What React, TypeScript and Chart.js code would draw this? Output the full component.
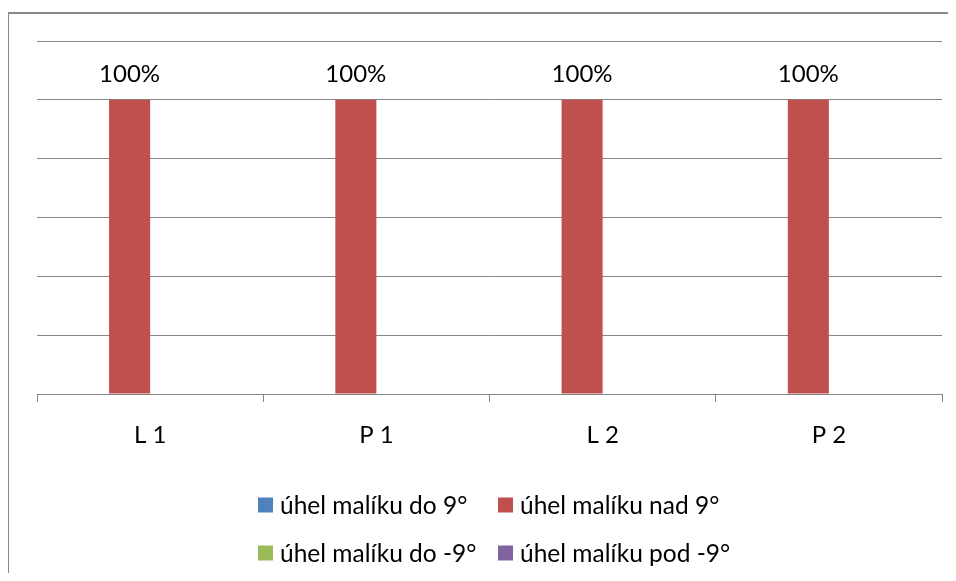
import React, { useEffect, useRef } from "react";
import { Chart, registerables } from "chart.js";

Chart.register(...registerables);

const categories = ["L 1", "P 1", "L 2", "P 2"];
const seriesNames = [
  "úhel malíku do 9°",
  "úhel malíku nad 9°",
  "úhel malíku do -9°",
  "úhel malíku pod -9°",
];
const doDevet = [0, 0, 0, 0];
const nadDevet = [100, 100, 100, 100];
const doMinusDevet = [0, 0, 0, 0];
const podMinusDevet = [0, 0, 0, 0];
const seriesColors = ["#4F81BD", "#C0504D", "#9BBB59", "#8064A2"];
const yMax = 120;
const yStep = 20;

const FONT = "Lato, 'Open Sans', sans-serif";
const GRID = "#868686";

const framePlugin = {
  id: "frame",
  beforeDraw(chart: any) {
    const ctx = chart.ctx;
    ctx.save();
    ctx.fillStyle = "#898989";
    ctx.fillRect(7, 12, 2, chart.height - 12);
    ctx.fillRect(7, 12, chart.width - 7, 2);
    ctx.restore();
  },
};

const labelPlugin = {
  id: "valueLabels",
  afterDatasetsDraw(chart: any) {
    const ctx = chart.ctx;
    ctx.save();
    ctx.font = `24px ${FONT}`;
    ctx.fillStyle = "#000";
    ctx.textAlign = "center";
    ctx.textBaseline = "alphabetic";
    chart.data.datasets.forEach((ds: any, di: number) => {
      const meta = chart.getDatasetMeta(di);
      meta.data.forEach((bar: any, i: number) => {
        const v = ds.data[i];
        if (!v) return;
        ctx.fillText(`${v}%`, bar.x, bar.y - 18);
      });
    });
    ctx.restore();
  },
};

const legendPlugin = {
  id: "gridLegend",
  afterDraw(chart: any) {
    const ctx = chart.ctx;
    ctx.save();
    ctx.font = `24.5px ${FONT}`;
    ctx.textBaseline = "middle";
    ctx.textAlign = "left";
    const colX = [258, 498];
    const rowY = [505, 553];
    chart.data.datasets.forEach((ds: any, i: number) => {
      const x = colX[i % 2];
      const y = rowY[Math.floor(i / 2)];
      ctx.fillStyle = ds.backgroundColor;
      ctx.fillRect(x, y - 7.5, 15, 15);
      ctx.fillStyle = "#000";
      ctx.fillText(ds.label, x + 22, y + 1);
    });
    ctx.restore();
  },
};

export default function App() {
  const ref = useRef<HTMLCanvasElement | null>(null);
  useEffect(() => {
    if (!ref.current) return;
    const series = [doDevet, nadDevet, doMinusDevet, podMinusDevet];
    const chart = new Chart(ref.current, {
      type: "bar",
      data: {
        labels: categories,
        datasets: series.map((d, i) => ({
          label: seriesNames[i],
          data: d,
          backgroundColor: seriesColors[i],
          borderWidth: 0,
          categoryPercentage: 0.7257,
          barPercentage: 1,
        })),
      },
      options: {
        responsive: false,
        animation: false,
        layout: { padding: { left: 37, right: 14, top: 41, bottom: 127 } },
        plugins: {
          legend: { display: false },
          tooltip: { enabled: false },
        },
        scales: {
          x: {
            grid: {
              drawOnChartArea: false,
              drawTicks: true,
              tickLength: 8,
              color: GRID,
              offset: true,
            },
            border: { display: true, color: GRID, width: 1 },
            ticks: { color: "#000", font: { family: FONT, size: 24 }, padding: 19 },
            afterFit: (scale: any) => {
              scale.height = 60;
            },
          },
          y: {
            min: 0,
            max: yMax,
            ticks: { display: false, stepSize: yStep },
            grid: { color: GRID, drawTicks: false },
            border: { display: false },
          },
        },
      },
      plugins: [framePlugin, labelPlugin, legendPlugin],
    });
    return () => chart.destroy();
  }, []);
  return (
    <div style={{ margin: "-8px -8px -8px -8px", width: 956, height: 581, overflow: "hidden" }}>
      <canvas ref={ref} width={956} height={581} style={{ display: "block" }} />
    </div>
  );
}
